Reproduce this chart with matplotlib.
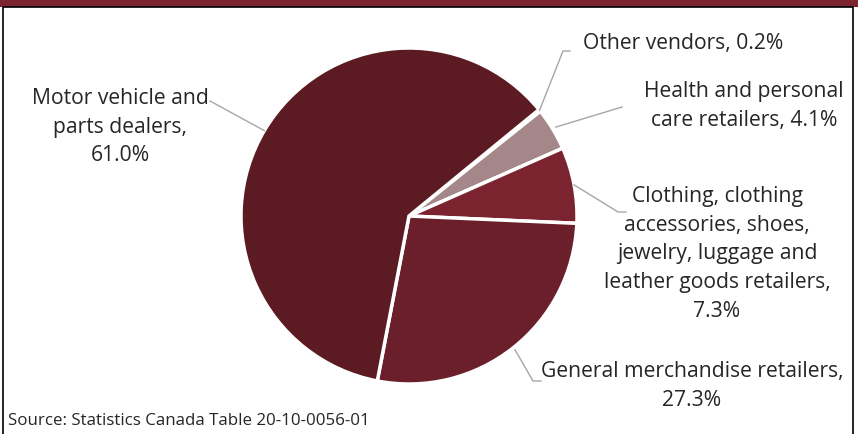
import numpy as np
import matplotlib.pyplot as plt
from matplotlib.patches import Rectangle

plt.rcParams['font.family'] = ['Open Sans', 'DejaVu Sans']

# data (clockwise from the top-right)
categories = ['Other vendors', 'Health and personal\ncare retailers',
              'Clothing, clothing\naccessories, shoes,\njewelry, luggage and\nleather goods retailers',
              'General merchandise retailers', 'Motor vehicle and\nparts dealers']
shares = [0.2, 4.1, 7.3, 27.3, 61.0]
colors = ['#5C1A23', '#A5878A', '#7B2430', '#6A1F2A', '#5C1A23']
explode = [0, 0.022, 0, 0.015, 0]

W, H = 858, 434
fig = plt.figure(figsize=(W / 100, H / 100), dpi=100)
ax = fig.add_axes([0, 0, 1, 1])

cx, cy, r = 409, H - 216, 168
start = 39.3
wedges, _ = ax.pie(shares, colors=colors, startangle=start, counterclock=False,
                   center=(cx, cy), radius=r, explode=explode, frame=False,
                   wedgeprops=dict(edgecolor='white', linewidth=2.5))
ax.set_xlim(0, W)
ax.set_ylim(0, H)
ax.set_aspect('equal')
ax.axis('off')

# label centre (px from top-left) and leader-line elbow points
anchors = [(683, 44), (744, 106), (717, 254), (692, 386), (120, 127)]
elbows = [[(570, 51), (563, 51)], [(622, 107)], [(626, 212), (618, 212)],
          [(541, 381), (533, 381)], [(210, 101)]]
breaks = [' ', ' ', ',\n', ',\n', ',\n']

cum = np.cumsum([0] + shares)
for i, cat in enumerate(categories):
    txt = cat + (breaks[i] if breaks[i] != ' ' else ', ') + '%.1f%%' % shares[i]
    tx, ty = anchors[i]
    ax.text(tx, H - ty, txt, ha='center', va='center', fontsize=15.2,
            color='#262626', linespacing=1.47)
    mid = np.deg2rad(start - (cum[i] + shares[i] / 2) * 3.6)
    if i == 0:
        mid = np.deg2rad(start - 0.3)
    rr = r * (1 + explode[i])
    px = cx + rr * np.cos(mid)
    py = cy + rr * np.sin(mid)
    xs = [px] + [e[0] for e in elbows[i][::-1]]
    ys = [py] + [H - e[1] for e in elbows[i][::-1]]
    ax.plot(xs, ys, color='#A6A6A6', lw=1)

ax.text(8, H - 421, 'Source: Statistics Canada Table 20-10-0056-01', ha='left',
        va='center', fontsize=12.2, color='#262626')

# header bar and frame
ax.add_patch(Rectangle((0, H - 7), W, 7, color='#7B2430', lw=0))
ax.plot([2.5, 2.5, 852.5, 852.5], [0, H - 7, H - 7, 0], color='black', lw=1.2)

fig.savefig('out.png', dpi=100)
